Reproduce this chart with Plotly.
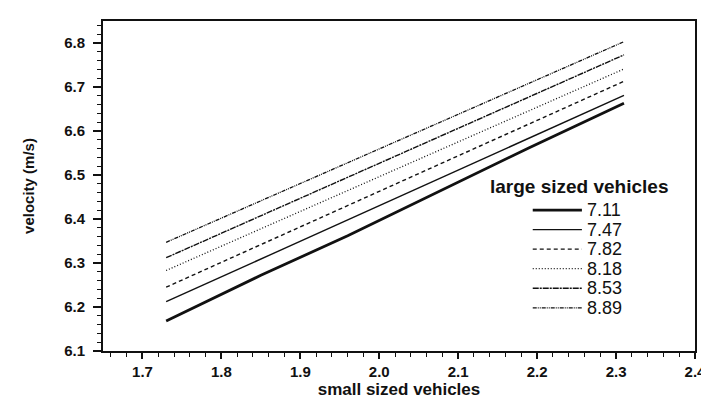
import plotly.graph_objects as go

small_vehicles = [1.73, 1.85, 1.96, 2.08, 2.19, 2.31]
large_labels = ["7.11", "7.47", "7.82", "8.18", "8.53", "8.89"]
v_711 = [6.168, 6.272, 6.362, 6.466, 6.562, 6.663]
v_747 = [6.212, 6.309, 6.398, 6.495, 6.584, 6.681]
v_782 = [6.245, 6.342, 6.431, 6.528, 6.616, 6.713]
v_818 = [6.283, 6.378, 6.465, 6.560, 6.646, 6.741]
v_853 = [6.312, 6.407, 6.495, 6.590, 6.678, 6.773]
v_889 = [6.347, 6.441, 6.528, 6.622, 6.709, 6.803]
series = [v_711, v_747, v_782, v_818, v_853, v_889]

styles = [
    dict(width=2.8, dash="solid"),
    dict(width=1.4, dash="solid"),
    dict(width=1.4, dash="4px,3px"),
    dict(width=1.3, dash="1px,2px"),
    dict(width=1.4, dash="6px,1px,2px,1px"),
    dict(width=1.3, dash="4px,1px,1px,1px,1px,1px"),
]

W, H = 709, 398
ML, MR, MT, MB = 95, 12, 11, 51
PW, PH = W - ML - MR, H - MT - MB


def px_x(p):
    return (p - ML) / PW


def px_y(p):
    return (H - MB - p) / PH


font_family = "Liberation Sans, Arial, sans-serif"

fig = go.Figure()
for lab, ys, st in zip(large_labels, series, styles):
    fig.add_trace(go.Scatter(
        x=small_vehicles, y=ys, mode="lines", name=lab, showlegend=False,
        line=dict(color="#111111", width=st["width"], dash=st["dash"]),
    ))

# legend drawn in paper space
shapes = []
annotations = [dict(
    text="<b>large sized vehicles</b>", xref="paper", yref="paper",
    x=px_x(487), y=px_y(179), xanchor="left", yanchor="middle", showarrow=False,
    font=dict(family=font_family, size=19, color="#111111"),
)]
for i, (lab, st) in enumerate(zip(large_labels, styles)):
    yc = 203.5 + 19.9 * i
    shapes.append(dict(
        type="line", xref="paper", yref="paper",
        x0=px_x(532), x1=px_x(582), y0=px_y(yc), y1=px_y(yc),
        line=dict(color="#111111", width=st["width"], dash=st["dash"]),
    ))
    annotations.append(dict(
        text=lab, xref="paper", yref="paper", x=px_x(585), y=px_y(yc),
        xanchor="left", yanchor="middle", showarrow=False,
        font=dict(family=font_family, size=18, color="#111111"),
    ))

axis_common = dict(
    showline=True, linecolor="#111111", linewidth=2, mirror=True,
    ticks="outside", tickwidth=1.5, tickcolor="#111111",
    showgrid=False, zeroline=False,
    tickfont=dict(family=font_family, size=15, color="#111111", weight="bold"),
    minor=dict(ticks="outside", ticklen=4, tickwidth=1.2, tickcolor="#111111"),
)

fig.update_layout(
    width=W, height=H,
    margin=dict(l=ML, r=MR, t=MT, b=MB),
    paper_bgcolor="white", plot_bgcolor="white",
    shapes=shapes, annotations=annotations,
)
fig.update_xaxes(
    range=[1.65, 2.4], tick0=1.7, dtick=0.1, tickformat=".1f",
    ticklen=6, ticklabelstandoff=0,
    title=dict(text="<b>small sized vehicles</b>", standoff=3,
               font=dict(family=font_family, size=17, color="#111111")),
    **axis_common,
)
fig.update_yaxes(
    range=[6.1, 6.85], tick0=6.1, dtick=0.1, tickformat=".1f",
    ticklen=8, ticklabelstandoff=5,
    title=dict(text="<b>velocity (m/s)</b>", standoff=26,
               font=dict(family=font_family, size=15, color="#111111")),
    **axis_common,
)
fig.write_html("out.html")
